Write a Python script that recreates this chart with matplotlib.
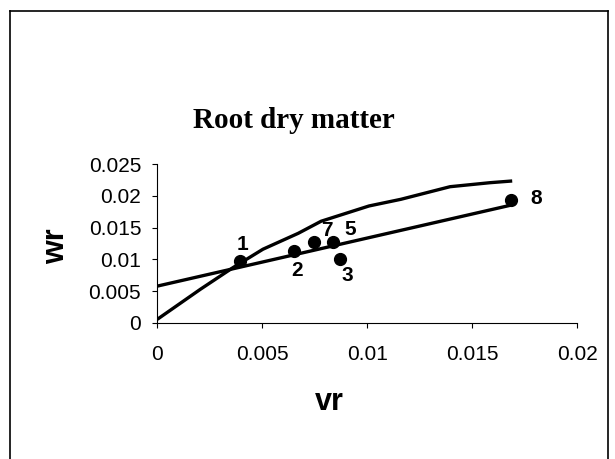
import numpy as np
import matplotlib
matplotlib.use("Agg")
import matplotlib.pyplot as plt
from matplotlib.lines import Line2D

# observed points (vr, wr) and their labels
point_labels = ["1", "2", "7", "5", "3", "8"]
vr = [0.00394, 0.00651, 0.00748, 0.00835, 0.0087, 0.01683]
wr = [0.0098, 0.01132, 0.01269, 0.01278, 0.01002, 0.01928]

# straight fitted line
fit_vr = [0.0, 0.0168]
fit_wr = [0.0058, 0.0185]

# model curve
curve_vr = [0.0, 0.00205, 0.0036, 0.00503, 0.00671, 0.0078, 0.01008,
            0.0116, 0.01394, 0.01584, 0.0169]
curve_wr = [0.00058, 0.0053, 0.0087, 0.0116, 0.0141, 0.0160, 0.0184,
            0.01945, 0.02143, 0.02206, 0.02233]

xticks = [0, 0.005, 0.01, 0.015, 0.02]
yticks = [0, 0.005, 0.01, 0.015, 0.02, 0.025]

sans = ["Liberation Sans", "DejaVu Sans"]
serif = ["Liberation Serif", "DejaVu Serif"]

fig = plt.figure(figsize=(6.15, 4.59), dpi=100)
ax = fig.add_axes([0.2558, 0.2963, 0.6829, 0.3464])

ax.plot(curve_vr, curve_wr, color="black", lw=2.4, solid_capstyle="butt")
ax.plot(fit_vr, fit_wr, color="black", lw=2.4, solid_capstyle="butt")
ax.plot(vr, wr, "o", color="black", ms=8.5, ls="none")

# label offsets in points
offsets = [(2, 12), (2, -14), (9, 8.5), (12.5, 9), (5, -11.5), (18.5, 1)]
for lab, x, y, off in zip(point_labels, vr, wr, offsets):
    ax.annotate(lab, (x, y), xytext=off, textcoords="offset points",
                ha="center", va="center", fontsize=15, fontweight="bold",
                family=sans)

ax.set_xlim(0, 0.02)
ax.set_ylim(0, 0.025)
ax.set_xticks(xticks)
ax.set_yticks(yticks)
ax.set_xticklabels([f"{t:g}" for t in xticks], family=sans, fontsize=15)
ax.set_yticklabels([f"{t:g}" for t in yticks], family=sans, fontsize=15)
ax.tick_params(axis="both", direction="out", length=3.6, width=0.8, colors="black")
ax.tick_params(axis="x", pad=12)
ax.tick_params(axis="y", pad=8)
for s in ["top", "right"]:
    ax.spines[s].set_visible(False)
for s in ["left", "bottom"]:
    ax.spines[s].set_linewidth(0.8)

ax.set_xlabel("vr", family=sans, fontsize=22, fontweight="bold", va="center")
ax.xaxis.set_label_coords(0.409, -0.497)
ax.set_ylabel("wr", family=sans, fontsize=22, fontweight="bold", va="center")
ax.yaxis.set_label_coords(-0.241, 0.484)

ax.text(0.3255, 1.275, "Root dry matter", transform=ax.transAxes,
        ha="center", va="center", fontsize=21, fontweight="bold", family=serif)

# outer frame (bottom edge falls outside the image)
W, H = 615, 459
x0, x1, y0 = 9.5 / W, 607.5 / W, 1 - 10.5 / H
for xs, ys in [([x0, x0], [0, y0]), ([x0, x1], [y0, y0]), ([x1, x1], [y0, 0])]:
    fig.add_artist(Line2D(xs, ys, color="black", lw=1.2, transform=fig.transFigure))

fig.savefig("out.png", dpi=100)
